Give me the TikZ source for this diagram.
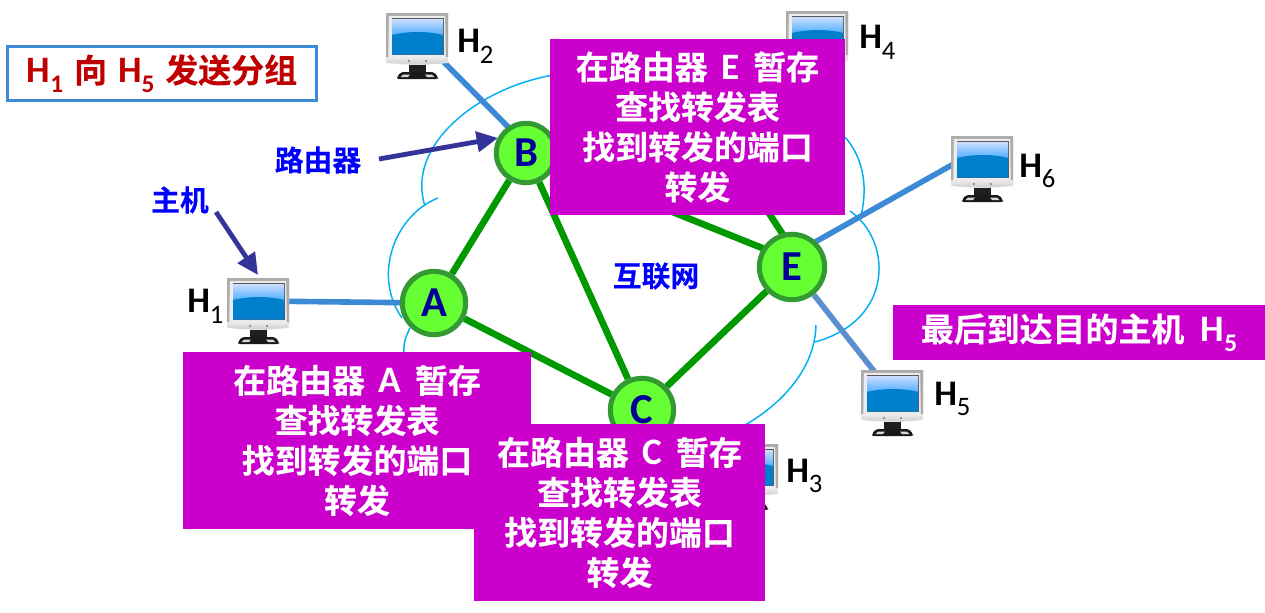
\documentclass[tikz,border=0pt]{standalone}
\usepackage{fontspec}
\setmainfont{Carlito}
\newfontfamily\cjk[BoldFont={* Bold},BoldFeatures={FakeBold=0.25}]{Noto Sans CJK SC}
\usetikzlibrary{arrows.meta,calc}
\pgfdeclarelayer{bg}
\pgfsetlayers{bg,main}
\definecolor{netgreen}{HTML}{009900}
\definecolor{ringgreen}{HTML}{339933}
\definecolor{routerfill}{HTML}{66FF33}
\definecolor{routertext}{HTML}{000099}
\definecolor{hostblue}{HTML}{3C8AD6}
\definecolor{hostblueb}{HTML}{5B8FD0}
\definecolor{cloudblue}{HTML}{00B0F0}
\definecolor{boxmagenta}{HTML}{CC00CC}
\definecolor{arrowindigo}{HTML}{333399}
\definecolor{titlered}{HTML}{C00000}
\definecolor{labelblue}{HTML}{0000FF}
\definecolor{hostfill}{HTML}{0080CC}
\newcommand{\zh}[1]{{\cjk\bfseries #1}}
\newcommand{\Hsub}[1]{\textbf{H}\raisebox{-0.3em}{\fontsize{20pt}{20pt}\selectfont #1}}
\newcommand{\boxletter}[1]{{\fontsize{28pt}{30pt}\selectfont\bfseries\,#1\,}}
\newcommand{\boxH}[1]{{\fontsize{28pt}{30pt}\selectfont\bfseries H}\raisebox{-0.3em}{\fontsize{19pt}{19pt}\selectfont\bfseries #1}}
\newcommand{\monitor}[3]{%
  \begin{scope}[shift={(#2,#3)}]
    \fill[black!88] (23,51) rectangle (40,60);
    \fill[black!90,rounded corners=1.5] (15,59) -- (48,59) -- (52,64) -- (52,66) -- (11,66) -- (11,64) -- cycle;
    \fill[white!85!black] (17,61.5) -- (24,61.5) -- (22,64) -- (14.5,64) -- cycle;
    \fill[white!85!black] (39,61.5) -- (46,61.5) -- (48.5,64) -- (41,64) -- cycle;
    \path[top color=gray!60,bottom color=gray!15] (0,0) -- (62,0) -- (62,50) .. controls (40,52.5) and (22,52.5) .. (0,50) -- cycle;
    \path[top color=gray!15,bottom color=gray!40] (1,44) -- (61,44) -- (61,49.5) .. controls (40,52) and (22,52) .. (1,49.5) -- cycle;
    \fill[gray!65] (0,0) rectangle (62,2.5) (0,0) rectangle (2,44) (60,0) rectangle (62,44);
    \fill[gray!15] (3,3) rectangle (59,44);
    \fill[gray!70!black] (5.5,5.2) rectangle (57.8,42.2);
    \path[top color=cyan!35!blue!20,bottom color=blue!45!cyan!75] (6,6) rectangle (57.2,24);
    \fill[hostfill] (6,22) .. controls (22,18) and (42,18) .. (57.2,22) -- (57.2,41.6) -- (6,41.6) -- cycle;
    \fill[gray!60!black] (23,48) circle (0.9) (40,48) circle (0.9);
    \node[monitornode] (#1) at (31,24) {};
  \end{scope}}
\tikzset{
  monitornode/.style={inner sep=0pt,minimum size=1pt},
  router/.style={circle,draw=ringgreen,line width=3.8pt,fill=routerfill,text=routertext,inner sep=0pt,font=\bfseries\fontsize{32pt}{32pt}\selectfont},
  netlink/.style={draw=netgreen,line width=5pt},
  hostlink/.style={draw=hostblue,line width=4.2pt},
  hostlinkb/.style={draw=hostblueb,line width=4.2pt},
  cloudarc/.style={draw=cloudblue,line width=1.1pt},
  pointer/.style={draw=arrowindigo,fill=arrowindigo,line width=3.6pt,-{Triangle[length=16pt,width=15pt]}},
  infobox/.style={fill=boxmagenta,text=white,inner sep=0pt,align=center,font=\fontsize{24.7pt}{30pt}\selectfont\bfseries},
  hostlabel/.style={text=black,inner sep=0pt,anchor=west,font=\fontsize{27pt}{27pt}\selectfont},
  zhlabel/.style={text=labelblue,inner sep=0pt,font=\fontsize{21.6pt}{26pt}\selectfont},
}
\begin{document}
\begin{tikzpicture}[x=0.75pt,y=-0.75pt]
\useasboundingbox (0,0) rectangle (1265,612);
% hosts
\monitor{hostA}{227}{278}
\monitor{hostB}{386}{13}
\monitor{hostD}{786}{11}
\monitor{hostF}{951}{136}
\monitor{hostE}{861}{370}
\monitor{hostC}{716}{444}
% hidden router
\coordinate (routerD) at (735,161);
% routers
\node[router,minimum size=47.5pt] (A) at (434,303) {A};
\node[router,minimum size=44.5pt] (B) at (526,153) {B};
\node[router,minimum size=47.5pt] (C) at (642,410) {C};
\node[router,minimum size=49pt] (E) at (792,267) {E};
\begin{pgfonlayer}{bg}
  \draw[cloudarc] (560,74) .. controls (480,85) and (405,145) .. (425,206);
  \draw[cloudarc] (438,198) .. controls (395,215) and (372,275) .. (402,318);
  \draw[cloudarc] (410,328) .. controls (405,338) and (403,345) .. (404,356);
  \draw[cloudarc] (845,137) .. controls (865,160) and (868,190) .. (860,220);
  \draw[cloudarc] (850,211) .. controls (892,240) and (895,320) .. (815,342);
  \draw[cloudarc] (816,325) .. controls (815,370) and (780,405) .. (745,425);
  \draw[netlink] (A) -- (B);
  \draw[netlink] (A) -- (C);
  \draw[netlink] (B) -- (C);
  \draw[netlink] (B) -- ($(E)+(0,-7)$);
  \draw[netlink] (C) -- (E);
  \draw[netlink] (routerD) -- ($(E)+(12,0)$);
  \draw[hostlink] ($(hostA)+(0,-1)$) -- (A);
  \draw[hostlink] ($(hostB)+(3,1)$) -- ($(B)+(0,-8)$);
  \draw[hostlink] ($(hostF)+(0,-12)$) -- ($(E)+(0,-12)$);
  \draw[hostlinkb] (hostE) -- (E);
\end{pgfonlayer}
% host labels
\node[hostlabel] (lH1) at (187,306) {\Hsub{1}};
\node[hostlabel] (lH2) at (457,46) {\Hsub{2}};
\node[hostlabel] (lH3) at (786,476) {\Hsub{3}};
\node[hostlabel] (lH4) at (859,42) {\Hsub{4}};
\node[hostlabel] (lH5) at (934,399) {\Hsub{5}};
\node[hostlabel] (lH6) at (1019,171) {\Hsub{6}};
% labels
\node[zhlabel] (lrouter) at (318,160) {\zh{路由器}};
\node[zhlabel] (lhost) at (180,200) {\zh{主机}};
\node[zhlabel] (lnet) at (656,276) {\zh{互联网}};
\coordinate (routerTail) at (379,159);
\coordinate (routerTip) at (498,138);
\coordinate (hostTail) at (216,212);
\coordinate (hostTip) at (258,275);
\draw[pointer] (routerTail) -- (routerTip);
\draw[pointer] (hostTail) -- (hostTip);
% title
\node[draw=hostblue,line width=2.2pt,fill=white,minimum width=232pt,minimum height=41pt,inner sep=0pt,text=titlered,font=\fontsize{24.7pt}{30pt}\selectfont\bfseries] (title) at (162,73.5) {\boxH{1}\,\,\zh{向}\,\,\boxH{5}\,\,\zh{发送分组}};
% info boxes
\node[infobox,minimum width=221.25pt,minimum height=132pt] (boxE) at (697.5,127) {\zh{在路由器} \boxletter{E} \zh{暂存}\\\zh{查找转发表}\\\zh{找到转发的端口}\\\zh{转发}};
\node[infobox,minimum width=261pt,minimum height=132.75pt] (boxA) at (357,440.5) {\zh{在路由器} \boxletter{A} \zh{暂存}\\\zh{查找转发表}\\\zh{找到转发的端口}\\\zh{转发}};
\node[infobox,minimum width=218.25pt,minimum height=132.75pt] (boxC) at (619.5,512.5) {\zh{在路由器} \boxletter{C} \zh{暂存}\\\zh{查找转发表}\\\zh{找到转发的端口}\\\zh{转发}};
\node[infobox,minimum width=279pt,minimum height=41.25pt] (boxF) at (1079,332.5) {\zh{最后到达目的主机}\,\,\,\boxH{5}};
\end{tikzpicture}
\end{document}
